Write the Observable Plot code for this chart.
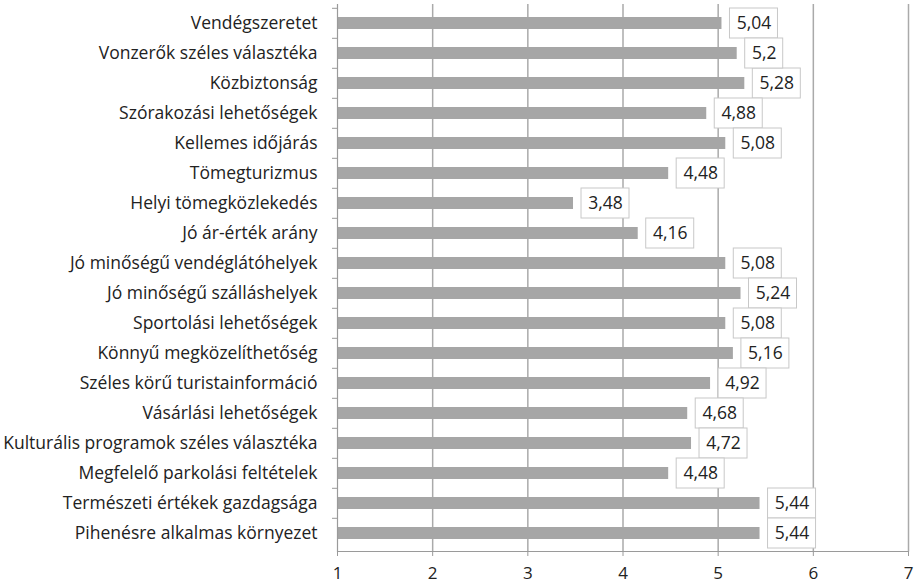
<!DOCTYPE html>
<html>
<head>
<meta charset="utf-8">
<script src="https://cdn.jsdelivr.net/npm/d3@7"></script>
<script src="https://cdn.jsdelivr.net/npm/@observablehq/plot@0.6"></script>
<style>
  html, body { margin: 0; padding: 0; background: #fff; }
  #chart svg { display: block; }
</style>
</head>
<body>
<div id="chart"></div>
<script>
const categories = [
  "Vendégszeretet",
  "Vonzerők széles választéka",
  "Közbiztonság",
  "Szórakozási lehetőségek",
  "Kellemes időjárás",
  "Tömegturizmus",
  "Helyi tömegközlekedés",
  "Jó ár-érték arány",
  "Jó minőségű vendéglátóhelyek",
  "Jó minőségű szálláshelyek",
  "Sportolási lehetőségek",
  "Könnyű megközelíthetőség",
  "Széles körű turistainformáció",
  "Vásárlási lehetőségek",
  "Kulturális programok széles választéka",
  "Megfelelő parkolási feltételek",
  "Természeti értékek gazdagsága",
  "Pihenésre alkalmas környezet"
];
const values = [5.04, 5.2, 5.28, 4.88, 5.08, 4.48, 3.48, 4.16, 5.08, 5.24, 5.08, 5.16, 4.92, 4.68, 4.72, 4.48, 5.44, 5.44];
const xTicks = [1, 2, 3, 4, 5, 6, 7];

const data = categories.map((c, i) => ({
  cat: c,
  value: values[i],
  label: String(values[i]).replace(".", ",")
}));

const W = 914, H = 587, mT = 4, mB = 36, mL = 337, mR = 6;
const band = (H - mT - mB) / categories.length;
const font = "'Open Sans', sans-serif";

const longLab = data.filter(d => d.label.length >= 4);
const shortLab = data.filter(d => d.label.length < 4);

const chart = Plot.plot({
  width: W,
  height: H,
  marginTop: mT,
  marginBottom: mB,
  marginLeft: mL,
  marginRight: mR,
  style: { fontFamily: font, background: "#fff", color: "#222" },
  x: { domain: [1, 7] },
  y: { domain: categories, padding: 0 },
  marks: [
    Plot.gridX(xTicks.slice(1), { stroke: "#aaaaaa", strokeOpacity: 1, strokeWidth: 1.5 }),
    Plot.barX(data, { y: "cat", x1: 1, x2: "value", fill: "#a6a6a6", insetTop: 9, insetBottom: 9 }),
    Plot.ruleX([1], { stroke: "#9a9a9a", strokeWidth: 1.2 }),
    Plot.frame({ anchor: "bottom", stroke: "#9a9a9a", strokeWidth: 1.2 }),
    Plot.axisY({ tickSize: 5, tickFormat: () => "", dy: -band / 2, stroke: "#9a9a9a", label: null }),
    Plot.axisY({ tickSize: 0, tickPadding: 20, fontSize: 17.5, fill: "#222", label: null }),
    Plot.axisX({ ticks: xTicks, tickSize: 5, tickPadding: 10, fontSize: 17, fill: "#222", stroke: "#9a9a9a", label: null, tickFormat: d => String(d) }),
    Plot.rect(longLab, { y: "cat", x1: "value", x2: "value", dx: 8, insetRight: -48, insetTop: 0, insetBottom: 0, fill: "#fff", stroke: "#c8c8c8", strokeWidth: 1 }),
    Plot.rect(shortLab, { y: "cat", x1: "value", x2: "value", dx: 8, insetRight: -38, insetTop: 0, insetBottom: 0, fill: "#fff", stroke: "#c8c8c8", strokeWidth: 1 }),
    Plot.text(longLab, { y: "cat", x: "value", text: "label", dx: 32, fontSize: 17.5, fill: "#222" }),
    Plot.text(shortLab, { y: "cat", x: "value", text: "label", dx: 27, fontSize: 17.5, fill: "#222" })
  ]
});
document.getElementById("chart").appendChild(chart);
</script>
</body>
</html>
